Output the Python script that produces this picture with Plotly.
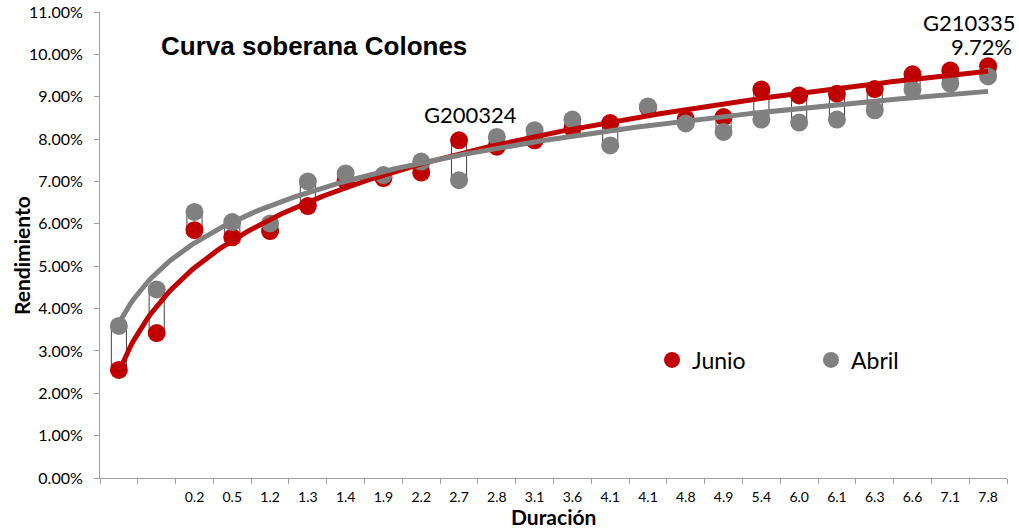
import numpy as np
import plotly.graph_objects as go

# Duration labels (first two bonds have no label on the axis)
duracion = ["", "", "0.2", "0.5", "1.2", "1.3", "1.4", "1.9", "2.2", "2.7", "2.8", "3.1",
            "3.6", "4.1", "4.1", "4.8", "4.9", "5.4", "6.0", "6.1", "6.3", "6.6", "7.1", "7.8"]

# Yields in percent
junio = [2.55, 3.42, 5.85, 5.68, 5.83, 6.42, 7.02, 7.08, 7.21, 7.97, 7.82, 7.97,
         8.25, 8.38, 8.75, 8.48, 8.52, 9.17, 9.03, 9.07, 9.18, 9.53, 9.62, 9.72]
abril = [3.59, 4.45, 6.28, 6.04, 6.01, 7.00, 7.19, 7.15, 7.47, 7.03, 8.05, 8.21,
         8.46, 7.85, 8.77, 8.37, 8.17, 8.46, 8.39, 8.46, 8.68, 9.17, 9.31, 9.48]

# Labelled bonds: (index, code)
etiquetas = [(9, "G200324"), (23, "G210335")]

RED = "#C00000"
GRAY = "#808080"
FONT = "Lato"

n = len(duracion)
xs = np.arange(1, n + 1)
yj = np.array(junio) / 100
ya = np.array(abril) / 100

fig = go.Figure()

# Up/down bars between the two months
lo = np.minimum(yj, ya)
hi = np.maximum(yj, ya)
fig.add_trace(go.Bar(
    x=xs, y=hi - lo, base=lo, width=0.4,
    marker=dict(color="white", line=dict(color="#404040", width=1)),
    showlegend=False, hoverinfo="skip"))

fig.add_trace(go.Scatter(
    x=xs, y=yj, mode="markers", name="Junio",
    marker=dict(color=RED, size=18)))
fig.add_trace(go.Scatter(
    x=xs, y=ya, mode="markers", name="Abril",
    marker=dict(color=GRAY, size=18)))

# Logarithmic trendlines (least squares on ln(x))
xt = np.linspace(1, n, 300)
for y, col in [(yj, RED), (ya, GRAY)]:
    a, b = np.polyfit(np.log(xs), y, 1)
    fig.add_trace(go.Scatter(
        x=xt, y=a * np.log(xt) + b, mode="lines",
        line=dict(color=col, width=5), showlegend=False, hoverinfo="skip"))

ann = []
# Bond labels
i0, code0 = etiquetas[0]
ann.append(dict(x=xs[i0], y=yj[i0], text=code0, showarrow=False,
                xanchor="center", yanchor="bottom", xshift=11, yshift=10,
                font=dict(family=FONT, size=22, color="black")))
i1, code1 = etiquetas[1]
ann.append(dict(x=xs[i1], y=yj[i1], text=code1, showarrow=False,
                xanchor="right", yanchor="bottom", xshift=30, yshift=28,
                font=dict(family=FONT, size=22, color="black")))
ann.append(dict(x=xs[i1], y=yj[i1], text=f"{junio[i1]:.2f}%", showarrow=False,
                xanchor="right", yanchor="bottom", xshift=26, yshift=4,
                font=dict(family=FONT, size=22, color="black")))

# Chart title and axis titles
ann.append(dict(x=(159 - 100) / 907, y=(478 - 46) / 466, xref="paper", yref="paper",
                text="<b>Curva soberana Colones</b>", showarrow=False,
                xanchor="left", yanchor="middle",
                font=dict(family="Liberation Sans", size=26, color="black")))
ann.append(dict(x=(22 - 100) / 907, y=(478 - 256) / 466, xref="paper", yref="paper",
                text="<b>Rendimiento</b>", textangle=-90, showarrow=False,
                xanchor="center", yanchor="middle",
                font=dict(family=FONT, size=21, color="black")))
ann.append(dict(x=0.5, y=(478 - 516) / 466, xref="paper", yref="paper",
                text="<b>Duración</b>", showarrow=False,
                xanchor="center", yanchor="middle",
                font=dict(family=FONT, size=21, color="black")))

fig.update_layout(
    width=1019, height=531,
    margin=dict(l=100, r=12, t=12, b=53, autoexpand=False),
    paper_bgcolor="white", plot_bgcolor="white",
    barmode="overlay",
    annotations=ann,
    showlegend=True,
    legend=dict(orientation="h", x=(652 - 100) / 907, y=(478 - 360) / 466,
                xanchor="left", yanchor="middle",
                font=dict(family=FONT, size=23, color="black"),
                entrywidth=114, bgcolor="rgba(0,0,0,0)"),
    xaxis=dict(
        range=[0.5, n + 0.5], tickmode="array", tickvals=xs, ticktext=duracion,
        ticks="", showgrid=False, zeroline=False, automargin=False,
        showline=True, linecolor="#A0A0A0", linewidth=1,
        tickfont=dict(family=FONT, size=14, color="black"),
        ticklabelstandoff=6,
        minor=dict(tickmode="array", tickvals=list(np.arange(0.5, n + 1, 1.0)),
                   ticks="outside", ticklen=5, tickcolor="#A0A0A0", showgrid=False),
    ),
    yaxis=dict(
        range=[0, 0.11], dtick=0.01, tickformat=".2%",
        ticks="outside", ticklen=5, tickcolor="#A0A0A0",
        showgrid=False, zeroline=False, automargin=False,
        showline=True, linecolor="#A0A0A0", linewidth=1,
        tickfont=dict(family=FONT, size=16, color="black"),
        ticklabelstandoff=8,
    ),
)

fig.write_html("out.html")
